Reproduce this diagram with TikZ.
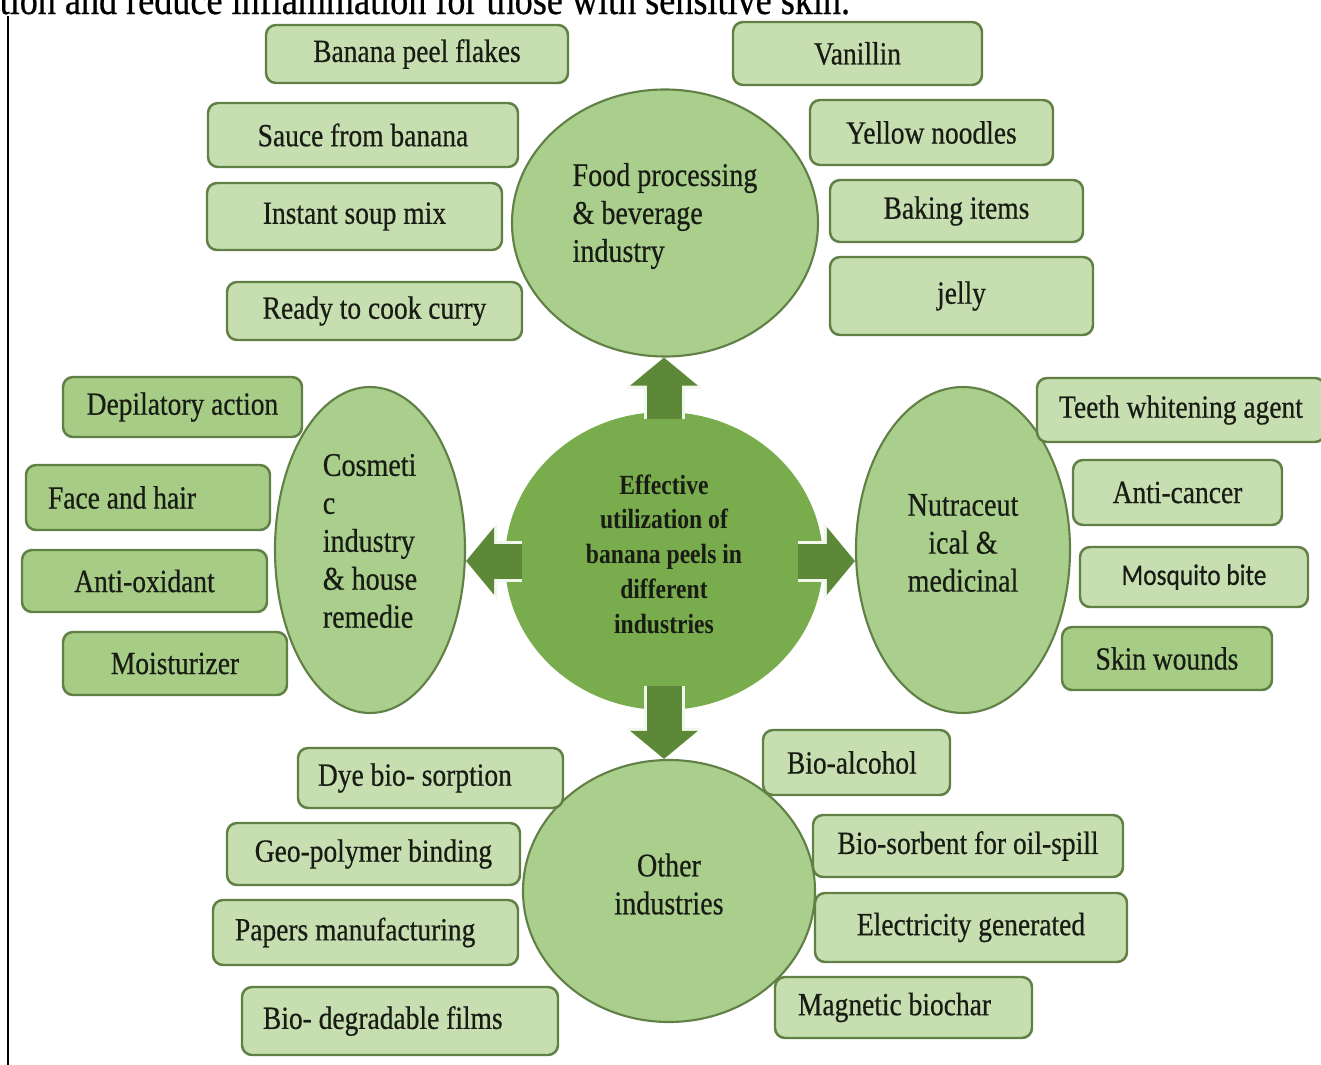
\documentclass[tikz,border=0pt]{standalone}
\usepackage{fontspec}
\setmainfont{Liberation Serif}[FakeStretch=0.85, UprightFeatures={FakeBold=0.5}]
\newfontfamily\calibrilike{Carlito}[FakeStretch=0.85, FakeBold=0.4]
\usetikzlibrary{shapes.geometric,arrows.meta}
\definecolor{boxfill}{RGB}{198,222,176}
\definecolor{boxdark}{RGB}{166,204,134}
\definecolor{ovalfill}{RGB}{170,206,140}
\definecolor{hubfill}{RGB}{120,172,76}
\definecolor{edgegreen}{RGB}{96,128,70}
\definecolor{arrowgreen}{RGB}{92,136,56}
\definecolor{ink}{RGB}{24,28,20}
\tikzset{
    item/.style={rectangle, rounded corners=1mm, draw=edgegreen, line width=0.7pt, fill=boxfill, text=ink, inner sep=0mm, font=\fontsize{9.2}{11}\selectfont},
    itemdark/.style={item, fill=boxdark},
    oval/.style={ellipse, draw=edgegreen, line width=0.6pt, fill=ovalfill, inner sep=0mm},
    ovaltext/.style={text=ink, inner sep=0mm, yshift=0.07cm, font=\fontsize{9.4}{10.8}\selectfont},
    bigarrow/.style={draw=arrowgreen, line width=3.5mm, -{Triangle[width=6.6mm,length=2.8mm]},
        preaction={draw=white!90!hubfill, line width=4.1mm, -{Triangle[width=7.4mm,length=3.1mm]}}}
}

\begin{document}
\begin{tikzpicture}
        \clip (0cm, 0cm) rectangle (13.21cm, -10.65cm);
        \fill[white] (0cm, 0cm) rectangle (13.21cm, -10.65cm);
        % text above the figure and the page rule
        \node (cap) [anchor=base west, inner sep=0mm, font=\fontsize{12.1}{14}\selectfont] at (-0.01cm, -0.14cm) {tion and reduce inflammation for those with sensitive skin.};
        \draw[line width=0.6pt] (0.08cm, -0.16cm) -- (0.08cm, -10.65cm);
        % the four branches and the hub
        \node (food) [oval, minimum width=3.06cm, minimum height=2.67cm, label={[ovaltext, align=left]center:Food processing\\\& beverage\\industry}] at (6.65cm, -2.23cm) {};
        \node (cosm) [oval, minimum width=1.90cm, minimum height=3.26cm, label={[ovaltext, align=left, yshift=0.02cm]center:Cosmeti\\c\\industry\\\& house\\remedie}] at (3.70cm, -5.50cm) {};
        \node (nutra) [oval, minimum width=2.14cm, minimum height=3.26cm, label={[ovaltext, align=center]center:Nutraceut\\ical \&\\medicinal}] at (9.63cm, -5.50cm) {};
        \node (other) [oval, minimum width=2.92cm, minimum height=2.62cm, label={[ovaltext, align=center]center:Other\\industries}] at (6.69cm, -8.91cm) {};
        \node (hub) [oval, draw=none, fill=hubfill, minimum width=3.18cm, minimum height=2.98cm, label={[ovaltext, align=center, font=\fontsize{7.9}{9.9}\selectfont\bfseries]center:Effective\\utilization of\\banana peels in\\different\\industries}] at (6.64cm, -5.61cm) {};
        \draw[bigarrow] ([yshift=-0.08cm]hub.north) -- (hub.north |- food.south);
        \draw[bigarrow] ([xshift=0.18cm]hub.west) -- (hub.west -| cosm.east);
        \draw[bigarrow] ([xshift=-0.26cm]hub.east) -- (hub.east -| nutra.west);
        \draw[bigarrow] ([yshift=0.25cm]hub.south) -- (hub.south |- other.north);
        % food processing
        \node (f1) [item, minimum width=3.02cm, minimum height=0.58cm] at (4.17cm, -0.54cm) {Banana peel flakes};
        \node (f2) [item, minimum width=3.10cm, minimum height=0.64cm] at (3.63cm, -1.35cm) {Sauce from banana};
        \node (f3) [item, minimum width=2.95cm, minimum height=0.67cm] at (3.545cm, -2.165cm) {Instant soup mix};
        \node (f4) [item, minimum width=2.95cm, minimum height=0.58cm] at (3.745cm, -3.11cm) {Ready to cook curry};
        \node (f5) [item, minimum width=2.49cm, minimum height=0.63cm] at (8.575cm, -0.535cm) {Vanillin};
        \node (f6) [item, minimum width=2.43cm, minimum height=0.65cm] at (9.315cm, -1.325cm) {Yellow noodles};
        \node (f7) [item, minimum width=2.53cm, minimum height=0.62cm] at (9.565cm, -2.11cm) {Baking items};
        \node (f8) [item, minimum width=2.63cm, minimum height=0.78cm] at (9.615cm, -2.96cm) {jelly};
        % cosmetic
        \node (c1) [itemdark, minimum width=2.39cm, minimum height=0.60cm] at (1.825cm, -4.07cm) {Depilatory action};
        \node (c2) [itemdark, minimum width=2.44cm, minimum height=0.65cm, text width=2.00cm, inner xsep=2.2mm, align=flush left] at (1.48cm, -4.975cm) {Face and hair};
        \node (c3) [itemdark, minimum width=2.45cm, minimum height=0.62cm] at (1.445cm, -5.81cm) {Anti-oxidant};
        \node (c4) [itemdark, minimum width=2.24cm, minimum height=0.63cm] at (1.75cm, -6.635cm) {Moisturizer};
        % nutraceutical
        \node (n1) [item, minimum width=2.88cm, minimum height=0.64cm] at (11.81cm, -4.10cm) {Teeth whitening agent};
        \node (n2) [item, minimum width=2.09cm, minimum height=0.65cm] at (11.775cm, -4.925cm) {Anti-cancer};
        \node (n3) [item, minimum width=2.28cm, minimum height=0.60cm, font=\calibrilike\fontsize{8.5}{10}\selectfont] at (11.94cm, -5.77cm) {Mosquito bite};
        \node (n4) [itemdark, minimum width=2.10cm, minimum height=0.63cm] at (11.67cm, -6.585cm) {Skin wounds};
        % other industries
        \node (o1) [item, minimum width=2.65cm, minimum height=0.60cm, text width=2.25cm, inner xsep=2.0mm, align=flush left] at (4.305cm, -7.78cm) {Dye bio- sorption};
        \node (o2) [item, minimum width=2.93cm, minimum height=0.62cm] at (3.735cm, -8.54cm) {Geo-polymer binding};
        \node (o3) [item, minimum width=3.05cm, minimum height=0.65cm, text width=2.61cm, inner xsep=2.2mm, align=flush left] at (3.655cm, -9.325cm) {Papers manufacturing};
        \node (o4) [item, minimum width=3.16cm, minimum height=0.68cm, text width=2.74cm, inner xsep=2.1mm, align=flush left] at (4.00cm, -10.21cm) {Bio- degradable films};
        \node (o5) [item, minimum width=1.87cm, minimum height=0.65cm, text width=1.39cm, inner xsep=2.4mm, align=flush left] at (8.565cm, -7.625cm) {Bio-alcohol};
        \node (o6) [item, minimum width=3.10cm, minimum height=0.62cm] at (9.68cm, -8.46cm) {Bio-sorbent for oil-spill};
        \node (o7) [item, minimum width=3.12cm, minimum height=0.69cm] at (9.71cm, -9.275cm) {Electricity generated};
        \node (o8) [item, minimum width=2.57cm, minimum height=0.61cm, text width=2.11cm, inner xsep=2.3mm, align=flush left] at (9.035cm, -10.075cm) {Magnetic biochar};
\end{tikzpicture}
\end{document}
